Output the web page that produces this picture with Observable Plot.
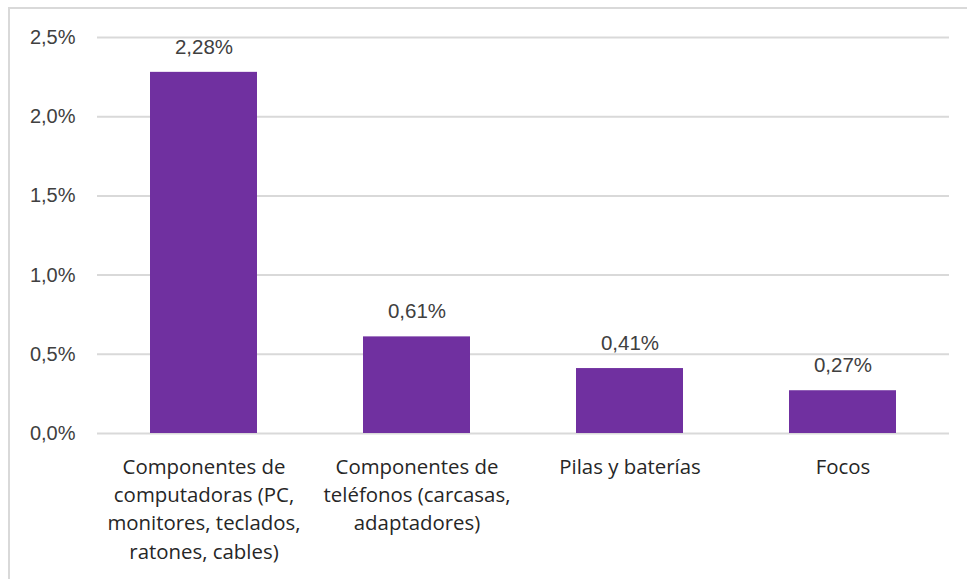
<!DOCTYPE html>
<html><head><meta charset="utf-8">
<script src="https://cdn.jsdelivr.net/npm/d3@7"></script>
<script src="https://cdn.jsdelivr.net/npm/@observablehq/plot@0.6"></script>
<style>
body{margin:0;background:#fff;}
#wrap{position:relative;width:967px;height:579px;overflow:hidden;}
#border{position:absolute;left:8px;top:7px;width:980px;height:600px;border:2px solid #d9d9d9;pointer-events:none;}
</style></head>
<body><div id="wrap"><div id="border"></div></div>
<script>
const categories = [
  "Componentes de\ncomputadoras (PC,\nmonitores, teclados,\nratones, cables)",
  "Componentes de\nteléfonos (carcasas,\nadaptadores)",
  "Pilas y baterías",
  "Focos"
];
const values = [2.28, 0.61, 0.41, 0.27];
const yTicks = [0, 0.5, 1.0, 1.5, 2.0, 2.5];

const data = categories.map((c, i) => ({cat: c, v: values[i]}));
const fmt = v => v.toFixed(1).replace(".", ",") + "%";
const fmt2 = v => v.toFixed(2).replace(".", ",") + "%";

const chart = Plot.plot({
  width: 967, height: 579,
  marginLeft: 97, marginRight: 18, marginTop: 37, marginBottom: 146,
  style: {fontFamily: "'Liberation Sans', Arial, sans-serif", background: "transparent", overflow: "visible"},
  x: {domain: categories, paddingInner: 0.5, paddingOuter: 0.25, label: null, axis: null},
  y: {domain: [0, 2.5], label: null, ticks: yTicks, axis: null},
  marks: [
    Plot.ruleY(yTicks, {stroke: "#d9d9d9", strokeWidth: 2}),
    Plot.barY(data, {x: "cat", y: "v", fill: "#7030A0"}),
    Plot.text(data, {x: "cat", y: "v", text: d => fmt2(d.v), dy: -25, fontSize: 20.5, fill: "#404040", lineAnchor: "middle", letterSpacing: "1px"}),
    Plot.axisY({ticks: yTicks, tickFormat: fmt, tickSize: 0, tickPadding: 22, fontSize: 20, fill: "#404040", letterSpacing: "0.8px", label: null}),
    Plot.axisX({tickSize: 0, tickPadding: 0, fontSize: 20.4, lineHeight: 1.39, fill: "#262626",
      fontFamily: "'Open Sans', sans-serif", dy: 20, lineAnchor: "top", tickFormat: d => d, label: null})
  ]
});
document.getElementById("wrap").prepend(chart);
chart.style.position = "absolute"; chart.style.left = "0"; chart.style.top = "0";
</script></body></html>
